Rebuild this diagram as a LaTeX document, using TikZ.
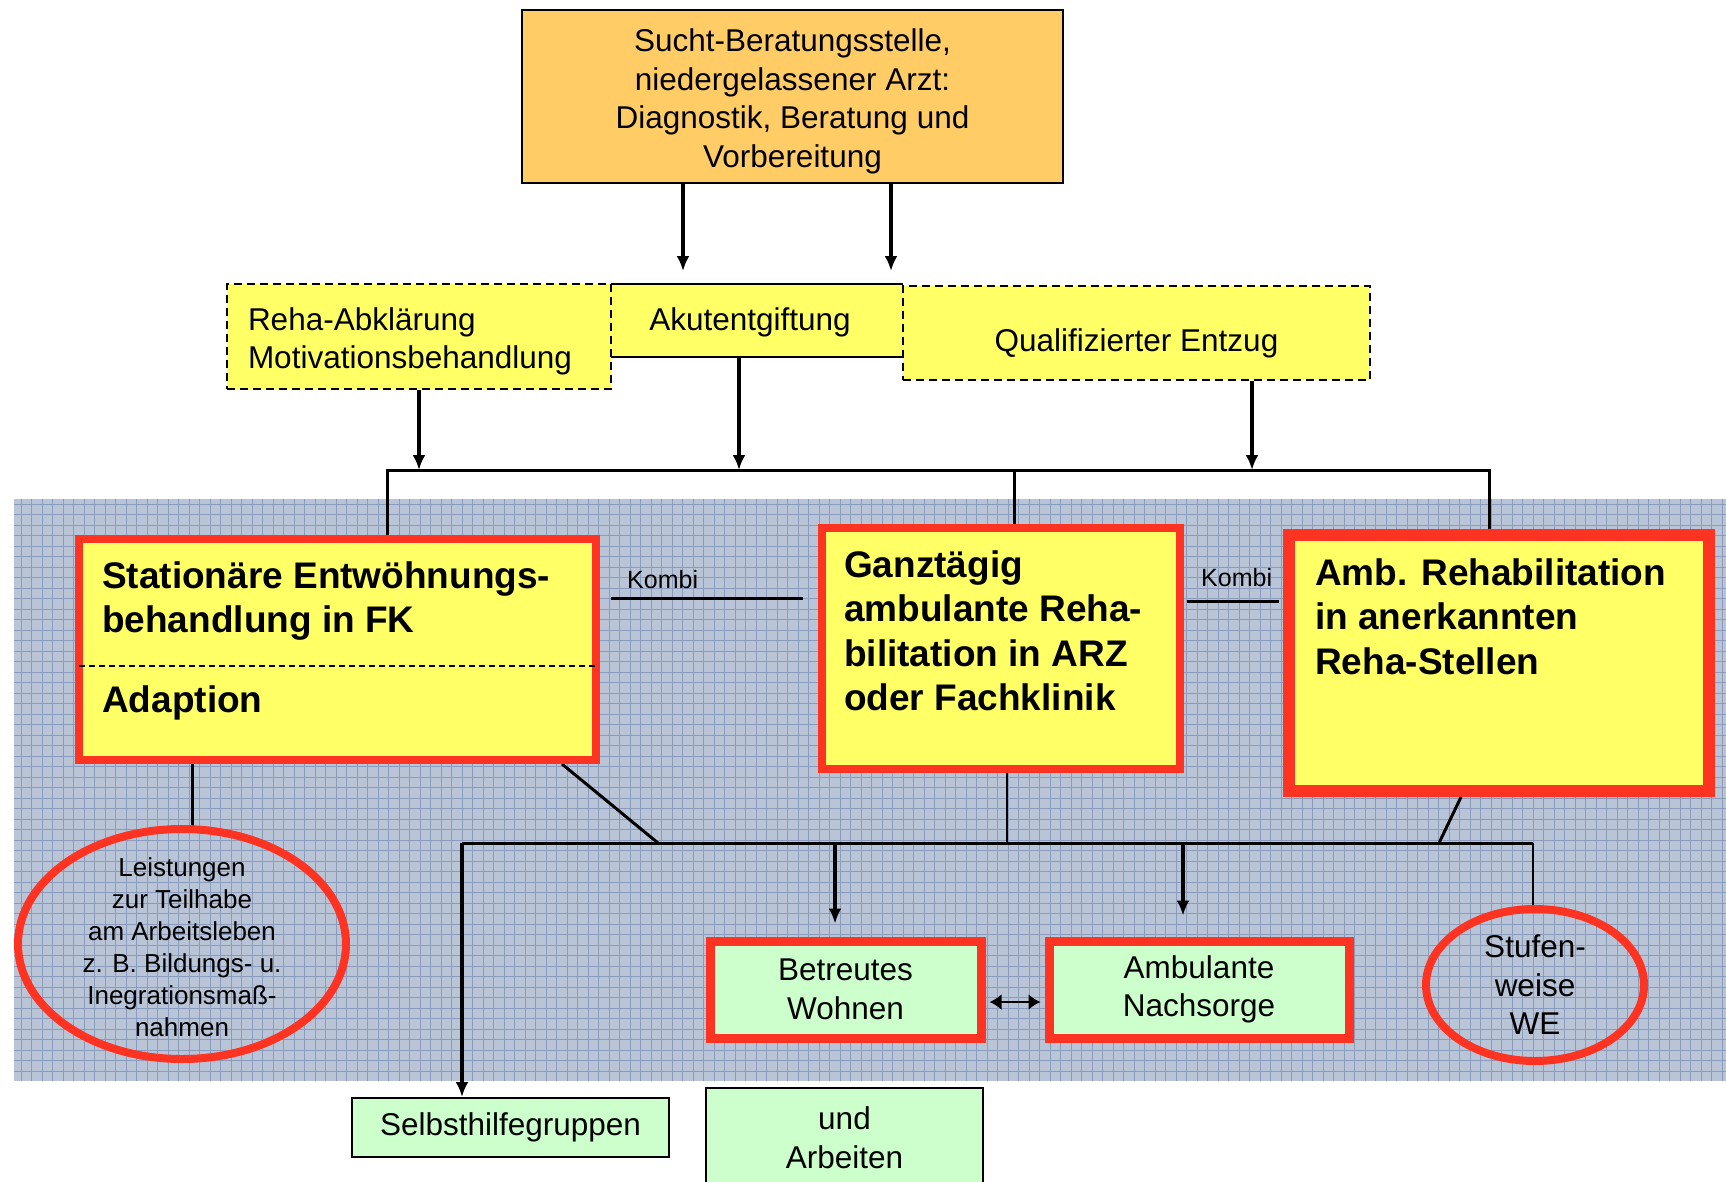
\documentclass[tikz,border=0pt]{standalone}
\usepackage{fontspec}
\setmainfont{Liberation Sans}
\usetikzlibrary{arrows.meta,shapes.geometric,positioning}

\definecolor{beratorange}{HTML}{FFCC66}
\definecolor{rehayellow}{HTML}{FFFF66}
\definecolor{framered}{HTML}{FF3322}
\definecolor{nachgreen}{HTML}{CCFFCC}
\definecolor{gridblue}{HTML}{B9C5D7}
\definecolor{gridline}{HTML}{8A9CBE}

\pgfdeclarelayer{grid}
\pgfdeclarelayer{lines}
\pgfsetlayers{grid,lines,main}

\tikzset{normal text/.style={font=\fontsize{31.5}{38.5}\selectfont,align=center}}
\tikzset{bold text/.style={font=\fontsize{37}{44.5}\selectfont\bfseries,align=left,inner sep=0pt,anchor=north west}}
\tikzset{small text/.style={font=\fontsize{26}{32}\selectfont,align=center}}
\tikzset{kombi text/.style={font=\fontsize{25}{30}\selectfont,inner sep=0pt,anchor=base west}}
\tikzset{berat box/.style={draw,line width=2.5pt,fill=beratorange,minimum width=541,minimum height=173}}
\tikzset{dash box/.style={draw,line width=2pt,dash pattern=on 8pt off 5pt,fill=rehayellow}}
\tikzset{akut box/.style={fill=rehayellow,minimum width=292,minimum height=73}}
\tikzset{red box/.style={draw=framered,line width=8pt,fill=rehayellow,inner sep=0pt}}
\tikzset{red ellipse/.style={ellipse,draw=framered,line width=8pt,inner sep=0pt}}
\tikzset{green box/.style={normal text,draw=framered,line width=9pt,fill=nachgreen}}
\tikzset{plain green/.style={normal text,draw,line width=2pt,fill=nachgreen}}
\tikzset{conn/.style={line width=3pt}}
\tikzset{thin conn/.style={line width=1.5pt}}
\tikzset{arr/.style={line width=3.5pt,-{Latex[length=15pt,width=13pt]}}}
\tikzset{dblarr/.style={line width=2.5pt,{Latex[length=12pt,width=16pt]}-{Latex[length=12pt,width=16pt]}}}

\begin{document}
\begin{tikzpicture}[x=1pt,y=-1pt]
\useasboundingbox (0,0) rectangle (1726,1181);
\begin{pgfonlayer}{grid}
\fill[gridblue] (14,499) rectangle (1726,1081);
\draw[gridline,line width=0.8pt,step=10.5pt] (14,1081) grid (1726,499);
\end{pgfonlayer}

\node[berat box] (sucht) at (792.5,96.5) {};
\node[normal text] (suchttxt) at ([yshift=-5pt]sucht.center) {Sucht-Beratungsstelle,\\niedergelassener Arzt:\\Diagnostik, Beratung und\\Vorbereitung};
\node[akut box] (akut) at (757,320.5) {};
\draw[line width=2pt] (akut.north west) -- (akut.north east);
\draw[line width=2pt] (akut.south west) -- (akut.south east);
\node[normal text] (akuttxt) at ([xshift=-7pt,yshift=-2pt]akut.center) {Akutentgiftung};
\node[dash box,minimum width=384,minimum height=105] (reha) at (419,336.5) {};
\node[normal text,align=left,text width=342pt,inner sep=0pt] (rehatxt) at ([yshift=-5pt]reha.center) {Reha-Abklärung\\Motivationsbehandlung};
\node[dash box,minimum width=467,minimum height=94] (qual) at (1136.5,333) {};
\node[normal text] (qualtxt) at ([yshift=-10pt]qual.center) {Qualifizierter Entzug};

\node[red box,minimum width=517,minimum height=221] (stat) at (337.5,649.5) {};
\node[red box,minimum width=358,minimum height=241] (ganz) at (1001,648.5) {};
\node[red box,line width=12pt,minimum width=420,minimum height=256] (amb) at (1499,663) {};
\draw[line width=1.5pt,dash pattern=on 6pt off 4pt,shorten <=4pt,shorten >=4pt] ([yshift=-16.5pt]stat.west) -- ([yshift=-16.5pt]stat.east);
\node[bold text] (stattxt) at (102,561) {Stationäre Entwöhnungs-\\behandlung in FK};
\node[bold text] (adapt) at (102,685) {Adaption};
\node[bold text] (ganztxt) at (844,550) {Ganztägig\\ambulante Reha-\\bilitation in ARZ\\oder Fachklinik};
\node[bold text] (ambtxt) at (1315,558) {Amb. Rehabilitation\\in anerkannten\\Reha-Stellen};

\coordinate (k1a) at (611,598);
\coordinate (k1b) at (803,598);
\coordinate (k2a) at (1187,601);
\coordinate (k2b) at (1279,601);
\node[kombi text] (kombi1) at (627,588) {Kombi};
\node[kombi text] (kombi2) at (1201,586) {Kombi};

\node[red ellipse,minimum width=328,minimum height=230] (leist) at (182,944) {};
\node[small text] (leisttxt) at ([yshift=-3pt]leist.center) {Leistungen\\zur Teilhabe\\am Arbeitsleben\\z. B. Bildungs- u.\\Inegrationsmaß-\\nahmen};
\node[green box,minimum width=271,minimum height=97] (betr) at (845.5,989.5) {Betreutes\\Wohnen};
\node[green box,minimum width=300,minimum height=97] (nach) at (1199,989.5) {Ambulante\\Nachsorge};
\node[red ellipse,minimum width=218,minimum height=152] (stufe) at (1535,985) {};
\node[normal text] (stufetxt) at (stufe.center) {Stufen-\\weise\\WE};
\node[plain green,minimum width=317,minimum height=59] (selbst) at (510.5,1127.5) {Selbsthilfegruppen};
\node[plain green,minimum width=277,minimum height=99] (arbeit) at (844.5,1137.5) {und\\Arbeiten};

\coordinate (s1) at (683,271);
\coordinate (s2) at (891,271);
\coordinate (busL) at (387,470);
\coordinate (busR) at (1489,470);
\coordinate (a2) at (739,470);
\coordinate (a3) at (1252,470);
\coordinate (g1) at (1014,470);
\coordinate (lv) at (192,829);
\coordinate (busBL) at (462,843);
\coordinate (busBR) at (1533,843);
\coordinate (sd) at (658,843);
\coordinate (gv) at (1007,843);
\coordinate (ad) at (1439,843);
\coordinate (bw) at (835,843);
\coordinate (an) at (1183,843);

\begin{pgfonlayer}{lines}
\draw[arr,shorten <=-18pt] (sucht.south -| s1) -- (s1);
\draw[arr,shorten <=-18pt] (sucht.south -| s2) -- (s2);
\draw[arr] (reha.south) -- (reha.south |- busL);
\draw[arr] (akut.south -| a2) -- (a2);
\draw[arr] (qual.south -| a3) -- (a3);
\draw[conn] (busL |- stat.north) -- (busL) -- (busR) -- (busR |- amb.north);
\draw[conn] (g1) -- (g1 |- ganz.north);
\draw[conn] (k1a) -- (k1b);
\draw[conn] (k2a) -- (k2b);
\draw[conn] (stat.south -| lv) -- (lv);
\draw[conn] (busBL) -- (busBR);
\draw[conn] ([xshift=224.5pt]stat.south) -- (sd);
\draw[thin conn] (ganz.south -| gv) -- (gv);
\draw[conn] ([xshift=-38pt]amb.south) -- (ad);
\draw[arr] (busBL) -- (busBL |- selbst.north);
\draw[arr,shorten >=13pt] (bw) -- (bw |- betr.north);
\draw[arr,shorten >=21pt] (an) -- (an |- nach.north);
\draw[thin conn] (busBR) -- (busBR |- stufe.north);
\draw[dblarr,shorten <=4pt,shorten >=4pt] ([yshift=-12.5pt]betr.east) -- ([yshift=-12.5pt]nach.west);
\end{pgfonlayer}
\end{tikzpicture}
\end{document}
